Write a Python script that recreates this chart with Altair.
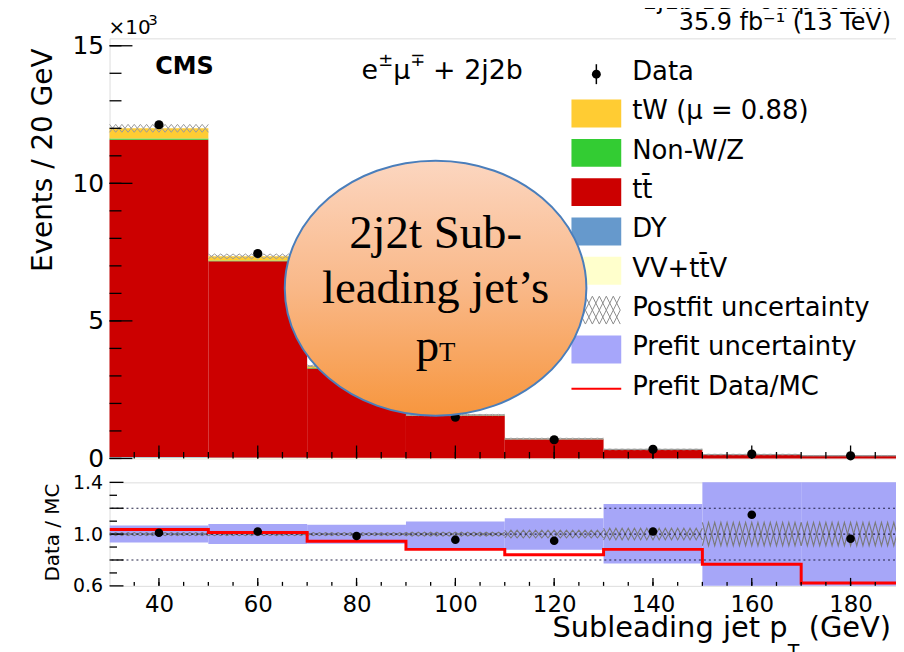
import altair as alt
import pandas as pd

FONT = "DejaVu Sans"
SERIF = "Liberation Serif"

# ---------------- data ----------------
bin_lo = [30, 50, 70, 90, 110, 130, 150, 170]
bin_width = 20
vv = [0.03, 0.02, 0.012, 0.006, 0.003, 0.002, 0.001, 0.001]
dy = [0.02, 0.015, 0.01, 0.005, 0.003, 0.002, 0.001, 0.001]
ttbar = [11.53, 7.13, 3.25, 1.53, 0.69, 0.315, 0.135, 0.095]
nonwz = [0.05, 0.03, 0.015, 0.008, 0.004, 0.002, 0.001, 0.001]
tw = [0.37, 0.15, 0.07, 0.03, 0.015, 0.007, 0.003, 0.002]
data_k = [12.13, 7.45, 3.32, 1.50, 0.68, 0.33, 0.16, 0.096]
ratio_data = [1.01, 1.02, 0.985, 0.956, 0.949, 1.02, 1.15, 0.964]
ratio_prefit = [1.036, 1.013, 0.944, 0.882, 0.841, 0.882, 0.767, 0.623]
prefit_lo = [0.936, 0.923, 0.926, 0.887, 0.879, 0.772, 0.5, 0.5]
prefit_hi = [1.067, 1.079, 1.072, 1.097, 1.123, 1.233, 1.5, 1.5]
postfit_rel = [0.012, 0.012, 0.012, 0.015, 0.03, 0.045, 0.09, 0.09]

proc_names = ["VV+tt\u0304V", "DY", "tt\u0304", "Non-W/Z", "tW (\u03bc = 0.88)"]
proc_colors = ["#ffffcc", "#6699cc", "#cc0000", "#33cc33", "#ffcc33"]
prefit_color = "#a6a6f8"

legend_labels = ["Data", "tW (\u03bc = 0.88)", "Non-W/Z", "tt\u0304", "DY",
                 "VV+tt\u0304V", "Postfit uncertainty", "Prefit uncertainty",
                 "Prefit Data/MC"]

x_major = [40, 60, 80, 100, 120, 140, 160, 180]
x_minor = list(range(35, 190, 5))
y_major = [0, 5, 10, 15]
y_minor = list(range(0, 16))
r_labels = [0.6, 1.0, 1.4]
r_major = [0.6, 0.8, 1.0, 1.2, 1.4]
r_minor = [0.7, 0.9, 1.1, 1.3]
r_dotted = [0.8, 1.0, 1.2]

# ---------------- geometry ----------------
W, H1, H2 = 794, 422, 104
xs = alt.Scale(domain=[30, 190], nice=False, zero=False)
ys = alt.Scale(domain=[0, 15.27], nice=False, zero=True)
rs = alt.Scale(domain=[0.6, 1.4], nice=False, zero=False)

AX_MAIN_Y = alt.Axis(
    values=y_major, labelFontSize=25, labelFont=FONT, labelColor="black",
    labelPadding=6, ticks=False, domain=False, grid=False,
    labelOverlap=False, labelFlush=False,
    title="Events / 20 GeV", titleFont=FONT, titleFontSize=28,
    titleFontWeight="normal", titleColor="black", titleAngle=270,
    titleX=-52, titleY=122, titleAlign="center", titleBaseline="bottom")
AX_R_X = alt.Axis(
    values=x_major, labelFontSize=23, labelFont=FONT, labelColor="black",
    labelPadding=8, ticks=False, domain=False, grid=False, title=None,
    labelOverlap=False, labelFlush=False)
AX_R_Y = alt.Axis(
    values=r_labels, format=".1f", labelFontSize=19, labelFont=FONT,
    labelColor="black", labelPadding=7, ticks=False, domain=False, grid=False,
    labelOverlap=False, labelFlush=False,
    title="Data / MC", titleFont=FONT, titleFontSize=20, titleFontWeight="normal",
    titleColor="black", titleAngle=270, titleX=-47, titleY=50,
    titleAlign="center", titleBaseline="bottom")

# ---------------- tables ----------------
stack_rows = []
totals = []
comps = [vv, dy, ttbar, nonwz, tw]
for i, lo in enumerate(bin_lo):
    base = 0.0
    for name, vals in zip(proc_names, comps):
        stack_rows.append(dict(x0=lo, x1=lo + bin_width, y0=base, y1=base + vals[i], proc=name))
        base += vals[i]
    totals.append(base)
stack_df = pd.DataFrame(stack_rows)


def zigzag(centers, halfw):
    rows = []
    for i, lo in enumerate(bin_lo):
        for ph in (0, 1):
            for k in range(17):
                s = 1 if (k + ph) % 2 == 0 else -1
                rows.append(dict(seg=f"{i}-{ph}", k=k, x=lo + k * 1.25,
                                 y=centers[i] + s * halfw[i]))
    return pd.DataFrame(rows)


main_hatch = zigzag(totals, [t * r for t, r in zip(totals, postfit_rel)])
ratio_hatch = zigzag([1.0] * len(bin_lo), postfit_rel)

centers = [lo + bin_width / 2 for lo in bin_lo]
points_df = pd.DataFrame(dict(x=centers, y=data_k, r=ratio_data))
band_df = pd.DataFrame(dict(x0=bin_lo, x1=[lo + bin_width for lo in bin_lo],
                            lo=prefit_lo, hi=prefit_hi))
step_df = pd.DataFrame(dict(x=bin_lo + [bin_lo[-1] + bin_width],
                            y=ratio_prefit + [ratio_prefit[-1]]))


# ---------------- helpers ----------------
def text(t, x, y, size, align="left", font=FONT, weight="normal", baseline="alphabetic"):
    return alt.Chart(pd.DataFrame({"t": [t]})).mark_text(
        align=align, baseline=baseline, font=font, fontSize=size,
        fontWeight=weight, color="black").encode(
        x=alt.value(x), y=alt.value(y), text="t:N")


def xticks(vals, H, length, xaxis, width=1.3):
    return alt.Chart(pd.DataFrame({"v": vals})).mark_rule(
        color="black", strokeWidth=width).encode(
        x=alt.X("v:Q", scale=xs, axis=xaxis),
        y=alt.value(H), y2=alt.value(H - length))


def yticks(vals, scale, length, yaxis, width=1.3):
    return alt.Chart(pd.DataFrame({"v": vals})).mark_rule(
        color="black", strokeWidth=width).encode(
        y=alt.Y("v:Q", scale=scale, axis=yaxis),
        x=alt.value(0), x2=alt.value(length))


# ---------------- main panel ----------------
stack = alt.Chart(stack_df).mark_rect().encode(
    x=alt.X("x0:Q", scale=xs, axis=None),
    x2="x1:Q",
    y=alt.Y("y0:Q", scale=ys, axis=AX_MAIN_Y),
    y2="y1:Q",
    color=alt.Color("proc:N", scale=alt.Scale(domain=proc_names, range=proc_colors),
                    legend=None),
)

hatch_main = alt.Chart(main_hatch).mark_line(color="#9a9a9a", strokeWidth=1).encode(
    x=alt.X("x:Q", scale=xs, axis=None),
    y=alt.Y("y:Q", scale=ys, axis=AX_MAIN_Y),
    detail="seg:N", order="k:Q")

pts_main = alt.Chart(points_df).mark_circle(size=85, color="black", opacity=1).encode(
    x=alt.X("x:Q", scale=xs, axis=None),
    y=alt.Y("y:Q", scale=ys, axis=AX_MAIN_Y))

main_layers = [stack, hatch_main, pts_main,
               xticks(x_major, H1, 13, None), xticks(x_minor, H1, 6.5, None),
               yticks(y_major, ys, 23, AX_MAIN_Y), yticks(y_minor, ys, 12, AX_MAIN_Y)]

# annotations
main_layers += [
    text("CMS", 46, 36, 24, weight="bold"),
    text("\u00d710", -1, -4, 20),
    text("3", 39, -13, 15),
    text("35.9 fb\u207b\u00b9 (13 TeV)", 785, -8, 24, align="right"),
    text("1j1b BDT output bin", 776, -29, 24, align="right"),
    text("e", 253, 41, 27),
    text("\u00b1", 270, 28, 18),
    text("\u03bc", 285, 41, 27),
    text("\u2213", 302, 28, 18),
    text("+ 2j2b", 325, 41, 27),
]

# legend
row_y = [36 + i * 39.5 for i in range(len(legend_labels))]
box_colors = {"tW (\u03bc = 0.88)": "#ffcc33", "Non-W/Z": "#33cc33", "tt\u0304": "#cc0000",
              "DY": "#6699cc", "VV+tt\u0304V": "#ffffcc", "Prefit uncertainty": "#a6a6fa"}
one = pd.DataFrame({"a": [0]})
for lab, yy in zip(legend_labels, row_y):
    if lab == "Data":
        main_layers.append(alt.Chart(one).mark_rule(color="black", strokeWidth=1.5).encode(
            x=alt.value(489), y=alt.value(yy - 10), y2=alt.value(yy + 10)))
        main_layers.append(alt.Chart(one).mark_circle(size=80, color="black", opacity=1).encode(
            x=alt.value(489), y=alt.value(yy)))
    elif lab == "Prefit Data/MC":
        main_layers.append(alt.Chart(one).mark_rule(color="#ff0000", strokeWidth=2).encode(
            x=alt.value(464), x2=alt.value(514), y=alt.value(yy)))
    elif lab == "Postfit uncertainty":
        for r in (0, 1):
            top = yy - 14 + 14 * r
            for k in range(7):
                xa = 464 + 7 * k
                main_layers.append(alt.Chart(one).mark_rule(color="#8c8c8c", strokeWidth=1).encode(
                    x=alt.value(xa), x2=alt.value(xa + 7), y=alt.value(top), y2=alt.value(top + 14)))
                main_layers.append(alt.Chart(one).mark_rule(color="#8c8c8c", strokeWidth=1).encode(
                    x=alt.value(xa), x2=alt.value(xa + 7), y=alt.value(top + 14), y2=alt.value(top)))
    else:
        main_layers.append(alt.Chart(one).mark_rect(color=box_colors[lab]).encode(
            x=alt.value(464), x2=alt.value(514), y=alt.value(yy - 14), y2=alt.value(yy + 14)))
    main_layers.append(text(lab, 525, yy - 2, 26, baseline="middle"))

# ellipse overlay
ELLIPSE = "M-1,0A1,0.845,0,1,1,1,0A1,0.845,0,1,1,-1,0Z"
grad = alt.Gradient(gradient="linear", x1=0, x2=0, y1=0, y2=1, stops=[
    alt.GradientStop(color="#fcd6c0", offset=0),
    alt.GradientStop(color="#f9b888", offset=0.5),
    alt.GradientStop(color="#f7963e", offset=1)])
main_layers.append(alt.Chart(one).mark_point(
    shape=ELLIPSE, size=303 * 303, filled=True, fill=grad, fillOpacity=1, opacity=1,
    stroke="#4a7ebb", strokeWidth=2).encode(x=alt.value(327.5), y=alt.value(251)))
main_layers += [
    text("2j2t Sub-", 327.5, 211, 47, align="center", font=SERIF),
    text("leading jet\u2019s", 327.5, 266, 47, align="center", font=SERIF),
    text("p", 307.5, 324, 47, font=SERIF),
    text("T", 331, 324, 27, font=SERIF),
]

main = alt.layer(*main_layers).properties(width=W, height=H1)

# ---------------- ratio panel ----------------
band = alt.Chart(band_df).mark_rect(color=prefit_color, clip=True).encode(
    x=alt.X("x0:Q", scale=xs, axis=AX_R_X),
    x2="x1:Q",
    y=alt.Y("lo:Q", scale=rs, axis=AX_R_Y),
    y2="hi:Q")

hatch_ratio = alt.Chart(ratio_hatch).mark_line(color="#7a7a7a", strokeWidth=1.1, clip=True).encode(
    x=alt.X("x:Q", scale=xs, axis=AX_R_X),
    y=alt.Y("y:Q", scale=rs, axis=AX_R_Y),
    detail="seg:N", order="k:Q")

dotted = alt.Chart(pd.DataFrame({"v": r_dotted})).mark_rule(
    color="#222244", strokeDash=[2, 3], strokeWidth=1.1).encode(
    y=alt.Y("v:Q", scale=rs, axis=AX_R_Y))

step = alt.Chart(step_df).mark_line(interpolate="step-after", color="#ff0000",
                                    strokeWidth=3, clip=True).encode(
    x=alt.X("x:Q", scale=xs, axis=AX_R_X),
    y=alt.Y("y:Q", scale=rs, axis=AX_R_Y))

pts_ratio = alt.Chart(points_df).mark_circle(size=75, color="black", opacity=1).encode(
    x=alt.X("x:Q", scale=xs, axis=AX_R_X),
    y=alt.Y("r:Q", scale=rs, axis=AX_R_Y))

ratio_layers = [band, hatch_ratio, dotted, step, pts_ratio,
                xticks(x_major, H2, 8, AX_R_X), xticks(x_minor, H2, 4, AX_R_X),
                yticks(r_major, rs, 14, AX_R_Y), yticks(r_minor, rs, 7.5, AX_R_Y),
                text("Subleading jet p", 681, 155, 29, align="right"),
                text("T", 693, 176, 19, align="right"),
                text(" (GeV)", 785, 155, 29, align="right")]
ratio = alt.layer(*ratio_layers).properties(width=W, height=H2)

chart = alt.vconcat(main, ratio, spacing=24, bounds="flush").properties(
    padding={"left": 21, "top": -20, "right": -7, "bottom": 0}
).configure_view(stroke="black", strokeWidth=1.5).configure(font=FONT)

chart.save("out.html", embed_options={"renderer": "svg", "actions": False})
